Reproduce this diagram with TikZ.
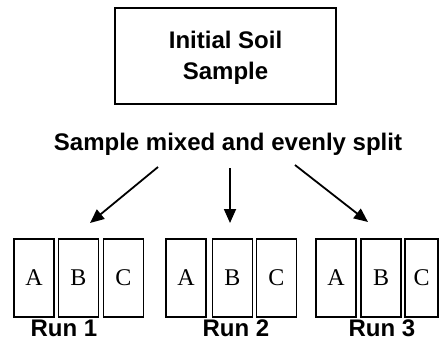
\documentclass[tikz,border=0pt]{standalone}
\usepackage{fontspec}
\setmainfont{Liberation Serif}
\setsansfont{Liberation Sans}
\usetikzlibrary{arrows.meta}

\begin{document}
\begin{tikzpicture}[x=1pt,y=-1pt,>={Triangle[length=14pt,width=12pt]},
  main box/.style={draw, line width=1.8pt, minimum width=221pt, minimum height=96pt, align=center, font=\sffamily\bfseries\fontsize{24}{31}\selectfont},
  cell/.style={draw, line width=1.4pt, minimum width=40pt, minimum height=78pt, inner sep=0pt, font=\fontsize{24}{28}\selectfont},
  run label/.style={font=\sffamily\bfseries\fontsize{24}{28}\selectfont},
  split arrow/.style={->, line width=1.8pt}]
			\useasboundingbox (0,0) rectangle (439,346);
			% Sample and splitting step
			\node [main box] (soil) at (225.5,56) {\strut Initial Soil\\Sample};
			\node [run label] (split) at (228,144) {Sample mixed and evenly split};
			
			% Run 1
			\node [cell] (a1) at (34,278) {A};
			\node [cell] (b1) at (78.5,278) {B};
			\node [cell] (c1) at (123.5,278) {C};
			\node [run label] (run1) at (64,328) {Run 1};
			
			% Run 2
			\node [cell] (a2) at (186,278) {A};
			\node [cell] (b2) at (232.5,278) {B};
			\node [cell] (c2) at (276.5,278) {C};
			\node [run label] (run2) at (236,328) {Run 2};
			
			% Run 3
			\node [cell] (a3) at (336,278) {A};
			\node [cell] (b3) at (381,278) {B};
			\node [cell, minimum width=33pt] (c3) at (421.5,278) {C};
			\node [run label] (run3) at (382,328) {Run 3};
			
			% arrows out of the split
			\coordinate (s1) at (158,167);
			\coordinate (s2) at (230,168);
			\coordinate (s3) at (295,165);
			\coordinate (t1) at (90,223);
			\coordinate (t2) at (230,223);
			\coordinate (t3) at (368,222);
			\draw[split arrow] (s1) -- (t1);
			\draw[split arrow] (s2) -- (t2);
			\draw[split arrow] (s3) -- (t3);
			
		\end{tikzpicture}
\end{document}
